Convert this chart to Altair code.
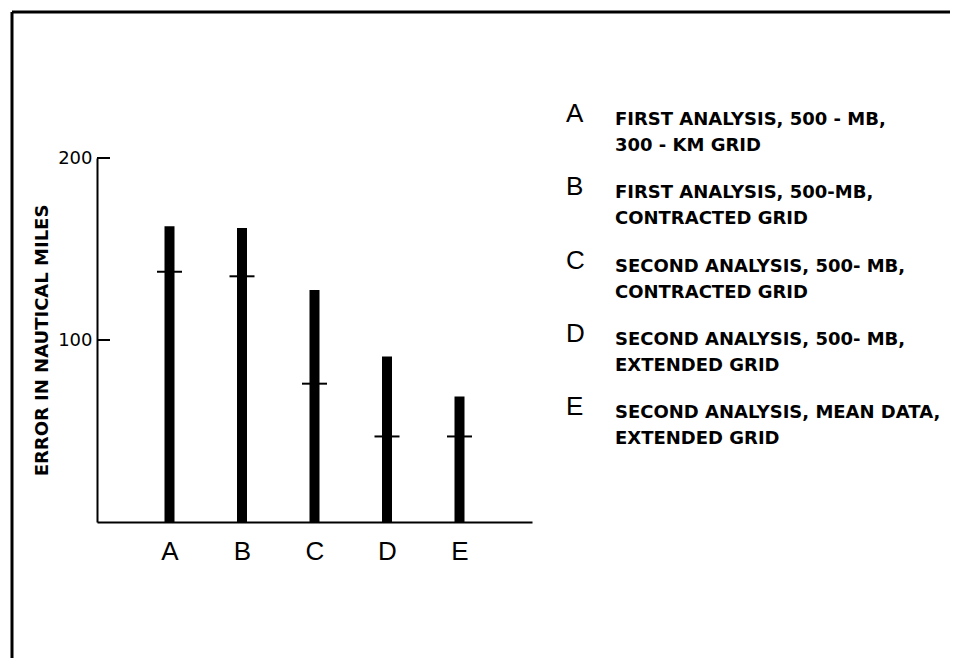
import altair as alt
import pandas as pd

# ---- data ----
categories = ["A", "B", "C", "D", "E"]
errors = [162.5, 161.5, 127.5, 91, 69]          # bar heights (nautical miles)
means = [137.5, 135, 76, 47, 47]                # short cross marks on each bar
y_tick_values = [100, 200]
legend_line1 = [
    "FIRST ANALYSIS, 500 - MB,",
    "FIRST ANALYSIS, 500-MB,",
    "SECOND ANALYSIS, 500- MB,",
    "SECOND ANALYSIS, 500- MB,",
    "SECOND ANALYSIS, MEAN DATA,",
]
legend_line2 = [
    "300 - KM GRID",
    "CONTRACTED GRID",
    "CONTRACTED GRID",
    "EXTENDED GRID",
    "EXTENDED GRID",
]

df = pd.DataFrame({"cat": categories, "error": errors, "mean": means})
leg = pd.DataFrame({
    "cat": categories,
    "desc": [a + "\n" + b for a, b in zip(legend_line1, legend_line2)],
})
ticks_df = pd.DataFrame({"v": y_tick_values})
one = pd.DataFrame({"k": [0]})

W, H = 435, 364
xscale = alt.Scale(type="point", padding=1)
yscale = alt.Scale(domain=[0, 200], nice=False, zero=True)
legscale = alt.Scale(type="point", range=[-33, 260], padding=0)

bars = alt.Chart(df).mark_bar(size=10, color="black").encode(
    x=alt.X("cat:N", scale=xscale, sort=categories,
            axis=alt.Axis(title=None, ticks=False, domainWidth=2, domainColor="black",
                          labelFont="Liberation Sans", labelFontSize=26, labelColor="black",
                          labelPadding=16, labelAngle=0, grid=False)),
    y=alt.Y("error:Q", scale=yscale,
            axis=alt.Axis(values=y_tick_values, ticks=False, grid=False,
                          domainWidth=2, domainColor="black",
                          labelFont="DejaVu Sans", labelFontSize=18, labelColor="black",
                          labelPadding=5,
                          title="ERROR IN NAUTICAL MILES", titleFont="DejaVu Sans",
                          titleFontSize=18, titleFontWeight="bold", titleColor="black",
                          titlePadding=6)),
)

cross = alt.Chart(df).mark_tick(size=25, thickness=2, color="black", opacity=1).encode(
    x=alt.X("cat:N", scale=xscale, sort=categories),
    y=alt.Y("mean:Q", scale=yscale, axis=None),
)

inner_ticks = alt.Chart(ticks_df).mark_rule(strokeWidth=2, color="black").encode(
    y=alt.Y("v:Q", scale=yscale, axis=None),
    x=alt.value(0),
    x2=alt.value(13),
)

frame_top = alt.Chart(one).mark_rule(strokeWidth=3, color="black").encode(
    x=alt.value(-85), x2=alt.value(870), y=alt.value(-146)
)
frame_left = alt.Chart(one).mark_rule(strokeWidth=3, color="black").encode(
    x=alt.value(-85), y=alt.value(-146), y2=alt.value(520)
)

leg_letters = alt.Chart(leg).mark_text(
    align="left", baseline="alphabetic", font="Liberation Sans", fontSize=26,
    color="black", dy=-3
).encode(
    x=alt.value(469),
    y=alt.Y("cat:N", scale=legscale, sort=categories, axis=None),
    text="cat:N",
)

leg_text = alt.Chart(leg).mark_text(
    align="left", baseline="alphabetic", font="DejaVu Sans", fontWeight="bold",
    fontSize=18, lineBreak="\n", lineHeight=26, color="black"
).encode(
    x=alt.value(518),
    y=alt.Y("cat:N", scale=legscale, sort=categories, axis=None),
    text="desc:N",
)

chart = alt.layer(
    frame_top, frame_left, bars, cross, inner_ticks, leg_letters, leg_text
).resolve_scale(y="independent").properties(
    width=W, height=H,
    padding={"left": 89, "top": 150, "right": 418, "bottom": 136},
    autosize=alt.AutoSizeParams(type="none"),
    background="white",
).configure_view(stroke=None)

chart.save("out.html", embed_options={"renderer": "svg", "actions": False})
